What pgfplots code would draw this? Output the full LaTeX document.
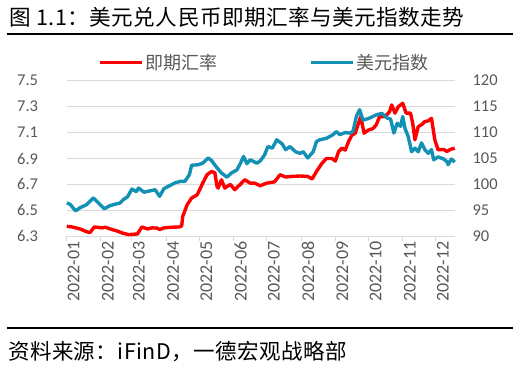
\documentclass[border=0pt]{standalone}
\usepackage{fontspec}
\setmainfont{Carlito}
\newfontfamily\cjk{Noto Sans CJK SC}
\newfontfamily\cjkt[LetterSpace=2]{Noto Sans CJK SC}
\newfontfamily\cjks[LetterSpace=2]{Noto Sans CJK SC}
\usepackage{pgfplots}
\pgfplotsset{compat=1.18}
\definecolor{rd}{RGB}{255,0,0}
\definecolor{bl}{RGB}{18,145,180}
\definecolor{gridc}{RGB}{217,217,217}
\definecolor{txt}{RGB}{89,89,89}
\begin{document}
\begin{tikzpicture}
\path[fill=white] (0pt,0pt) rectangle (518pt,369pt);
\node[anchor=west, inner sep=0pt, text=black] at (9.5pt,352pt) {\cjkt\fontsize{21.6}{21.6}\selectfont 图 1.1：美元兑人民币即期汇率与美元指数走势};
\draw[line width=2pt] (6.7pt,334.7pt) -- (513pt,334.7pt);
\draw[line width=2.3pt] (6.7pt,41.2pt) -- (513pt,41.2pt);
\node[anchor=west, inner sep=0pt, text=black] at (8pt,17pt) {\cjks\fontsize{21.5}{21.5}\selectfont 资料来源：iFinD，一德宏观战略部};

\begin{axis}[
 at={(66.7pt,132.7pt)}, anchor=south west, scale only axis,
 width=388pt, height=155.6pt,
 xmin=0, xmax=351, ymin=6.3, ymax=7.5,
 clip=false,
 axis x line*=bottom, axis y line*=left,
 y axis line style={draw=none},
 x axis line style={gridc, line width=1pt},
 ytick={6.3,6.5,6.7,6.9,7.1,7.3,7.5},
 ytick style={draw=none},
 xtick={0,31,59,90,120,151,181,212,243,273,304,334},
 xticklabels={2022-01,2022-02,2022-03,2022-04,2022-05,2022-06,2022-07,2022-08,2022-09,2022-10,2022-11,2022-12},
 xtick style={gridc, line width=1pt},
 tick align=outside, major tick length=5pt,
 ymajorgrids, grid style={gridc, line width=1pt},
 /pgf/number format/assume math mode=true,
 yticklabel style={/pgf/number format/fixed, /pgf/number format/precision=1, /pgf/number format/fixed zerofill},
 tick label style={font=\fontsize{16.5}{16.5}\selectfont, text=txt},
 yticklabel style={anchor=east, inner sep=0pt, xshift=-23.4pt},
 xticklabel style={rotate=90, anchor=east, inner sep=0pt, font=\fontsize{18}{18}\selectfont, yshift=-7pt},
 legend style={at={(0.0807,1.1157)}, anchor=west, draw=none, fill=none, inner sep=0pt, font=\cjk\fontsize{18}{18}\selectfont, text=txt},
 legend image code/.code={\draw[#1] (0pt,0pt) -- (42pt,0pt);},
]
\addplot[rd, line width=3.4pt, line join=round] coordinates {
(0,6.377)(5,6.372)(12,6.357)(17,6.339)(21,6.328)(25,6.372)(32,6.365)(35,6.37)(41,6.352)(46,6.34)(50,6.326)(56,6.313)(64,6.318)(68,6.372)(73,6.357)(77,6.365)(82,6.363)(84,6.352)(88,6.365)(95,6.37)(102,6.372)(104,6.38)(105,6.454)(109,6.544)(113,6.595)(118,6.62)(121,6.672)(123,6.71)(127,6.775)(131,6.80)(134,6.79)(136,6.685)(137,6.672)(140,6.736)(143,6.672)(148,6.70)(152,6.66)(157,6.70)(161,6.736)(166,6.71)(170,6.71)(175,6.69)(181,6.71)(188,6.72)(193,6.775)(198,6.757)(204,6.762)(211,6.765)(218,6.762)(222,6.742)(226,6.80)(231,6.864)(235,6.90)(240,6.90)(243,6.88)(246,6.954)(249,6.98)(252,6.965)(255,7.031)(258,7.08)(261,7.095)(264,7.172)(266,7.223)(269,7.095)(273,7.12)(277,7.13)(280,7.159)(283,7.223)(288,7.223)(292,7.26)(294,7.313)(297,7.25)(300,7.30)(304,7.326)(307,7.25)(311,7.25)(313,7.172)(315,7.044)(318,7.146)(321,7.16)(324,7.185)(327,7.19)(330,7.21)(333,7.044)(336,6.967)(341,6.97)(344,6.954)(347,6.97)(351,6.98)
};
\addlegendentry{即期汇率}
\end{axis}

\begin{axis}[
 at={(66.7pt,132.7pt)}, anchor=south west, scale only axis,
 width=388pt, height=155.6pt,
 xmin=0, xmax=351, ymin=90, ymax=120,
 clip=false,
 hide x axis, axis y line*=right,
 y axis line style={draw=none},
 ytick={90,95,100,105,110,115,120},
 ytick style={draw=none},
 /pgf/number format/assume math mode=true,
 tick label style={font=\fontsize{16.5}{16.5}\selectfont, text=txt},
 yticklabel style={anchor=west, inner sep=0pt, xshift=17.7pt},
 legend style={at={(0.6237,1.1157)}, anchor=west, draw=none, fill=none, inner sep=0pt, font=\cjk\fontsize{18}{18}\selectfont, text=txt},
 legend image code/.code={\draw[#1] (0pt,0pt) -- (42pt,0pt);},
]
\addplot[bl, line width=3.4pt, line join=round] coordinates {
(0,96.4)(3,96.2)(8,94.9)(12,95.5)(18,96.1)(24,97.4)(27,96.8)(34,95.3)(39,95.9)(44,96.2)(48,96.4)(52,97.2)(55,97.6)(59,99.1)(63,98.6)(65,99.3)(70,98.5)(74,98.7)(80,98.98)(84,97.7)(88,99.2)(93,99.75)(98,100.3)(103,100.6)(107,100.6)(111,101.9)(113,103.7)(119,103.8)(123,104.1)(128,105.1)(131,104.6)(136,103.2)(140,102.2)(145,101.4)(149,102.2)(154,102.8)(157,104.0)(160,105.4)(163,104.0)(166,104.75)(172,104.1)(175,104.5)(179,105.7)(182,107.3)(186,107.0)(190,108.6)(195,107.8)(198,106.7)(202,107.3)(207,106.3)(211,106.0)(214,106.3)(218,105.1)(223,106.3)(226,108.3)(229,108.6)(235,108.9)(241,109.6)(244,110.2)(247,109.6)(252,110.0)(256,109.9)(259,110.2)(262,113.1)(265,114.4)(268,112.4)(273,112.7)(280,113.4)(285,113.7)(290,112.8)(293,112.6)(296,109.9)(299,111.8)(302,111.2)(304,113.1)(306,110.8)(309,109.2)(312,106.3)(315,107.0)(318,106.3)(321,108.0)(324,106.7)(327,106.0)(330,106.7)(332,104.75)(336,105.3)(341,104.9)(344,104.4)(345,103.8)(348,104.9)(351,104.3)
};
\addlegendentry{美元指数}
\end{axis}
\end{tikzpicture}
\end{document}
